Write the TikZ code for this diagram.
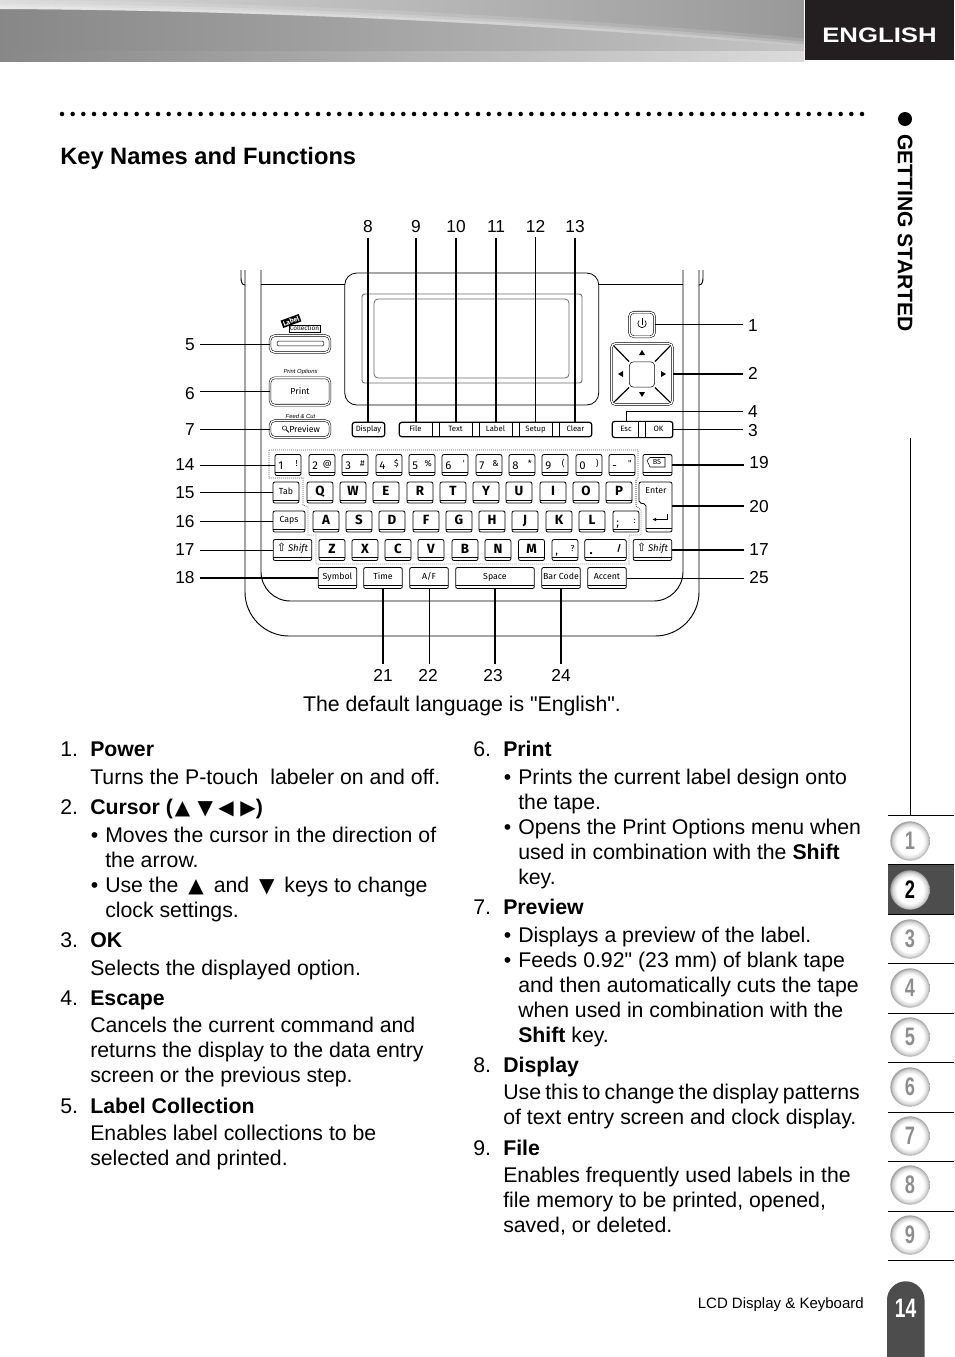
\documentclass[tikz,border=0pt]{standalone}
\usepackage{fontspec}
\usepackage{xcolor}
\setmainfont[Ligatures=TeXOff]{Liberation Sans}
\newfontfamily\keyfont[Ligatures=TeXOff]{Fira Sans}
\newfontfamily\symfont{DejaVu Sans}
\newfontfamily\navfont[FakeStretch=0.72]{Liberation Sans}
\newfontfamily\engfont[FakeStretch=1.23]{Liberation Sans}
\usetikzlibrary{arrows.meta,shapes.geometric}
\definecolor{tabdark}{HTML}{4D4D4D}
\definecolor{engdark}{HTML}{231F20}
\definecolor{navgrey}{HTML}{8E8E8E}
\definecolor{framegrey}{HTML}{6A6A6A}
\newcommand{\bodysize}{\fontsize{15.95}{18.75}\selectfont}
\newcommand{\itm}{\makebox[11.25pt][l]{\hspace{0.4pt}•}}
\newcommand{\cont}{\hspace*{11.25pt}}
\newcommand{\tup}{{\symfont\fontsize{15}{15}\selectfont▲}}
\newcommand{\tdn}{{\symfont\fontsize{15}{15}\selectfont▼}}
\newcommand{\tlf}{{\symfont\fontsize{15}{15}\selectfont◀}}
\newcommand{\trt}{{\symfont\fontsize{15}{15}\selectfont▶}}
\newcommand{\twin}[2]{\makebox[14.5pt]{\raisebox{-0.4pt}{#1}\hfill\raisebox{1.8pt}{\fontsize{6.5}{6.5}\selectfont #2}}}
\pgfdeclareradialshading{navball}{\pgfpoint{0bp}{0bp}}{%
  rgb(0bp)=(1,1,1);rgb(17bp)=(1,1,1);rgb(22bp)=(0.84,0.84,0.84);rgb(25bp)=(0.62,0.62,0.62);rgb(50bp)=(0.62,0.62,0.62)}
\tikzset{
  body/.style={anchor=north west, inner sep=0pt, align=left, font=\bodysize,
    execute at begin node=\strut},
  head/.style={body, font=\bodysize\bfseries},
  leadnum/.style={font=\fontsize{13}{13}\selectfont, inner sep=3.75pt},
  lead/.style={draw=black, line width=0.75pt},
  leadbold/.style={draw=black, line width=1.3pt},
  leadthin/.style={draw=black, line width=0.45pt},
  keybox/.style={draw=black, line width=0.6pt, rounded corners=1.5pt, inner sep=0pt,
    minimum width=19.5pt, minimum height=15.8pt, text height=5pt, text depth=1pt,
    font=\keyfont\fontsize{6.6}{7}\selectfont,
    path picture={\draw[line width=0.5pt]
      ([yshift=2.4pt]path picture bounding box.south west) --
      ([yshift=2.4pt]path picture bounding box.south east);}},
  letterkey/.style={keybox, text height=6.8pt, text depth=0pt, font=\keyfont\bfseries\fontsize{10}{10}\selectfont},
  twinkey/.style={keybox, text height=6pt, text depth=0pt, font=\keyfont\fontsize{8.5}{9}\selectfont},
  btnbox/.style={draw=black, double=white, double distance=1pt, line width=0.4pt,
    rounded corners=3.5pt, inner sep=0pt, font=\keyfont\fontsize{6.6}{7}\selectfont},
  barbox/.style={draw=black, line width=0.9pt, rounded corners=2pt, inner sep=0pt,
    text height=4.5pt, text depth=1pt, font=\keyfont\fontsize{5.8}{6}\selectfont},
  barlabel/.style={inner sep=0pt, text height=4.5pt, text depth=1pt, font=\keyfont\fontsize{5.8}{6}\selectfont},
  tinynote/.style={inner sep=0pt, font=\itshape\fontsize{4.4}{5}\selectfont},
  bodyline/.style={draw=black, line width=0.7pt},
  navline/.style={draw=black, line width=0.75pt},
  navball/.style={circle, shading=navball, minimum size=29.5pt, inner sep=0pt,
    font=\navfont\bfseries\fontsize{19}{19}\selectfont},
}

\begin{document}
\begin{tikzpicture}[x=0.75pt, y=-0.75pt]
  \useasboundingbox (0,0) rectangle (954,1357);

  % header band
  \shade[left color=black!47, right color=black!23] (0,0) rectangle (804,61.5);
  \begin{scope}
    \clip (0,0) -- (0,9) .. controls (250,10) and (550,24) .. (804,47) -- (804,0) -- cycle;
    \shade[left color=black!15, right color=black!40] (0,0) rectangle (804,50);
    \draw[white, opacity=0.12, line width=13pt] (0,9) .. controls (250,10) and (550,24) .. (804,47);
    \draw[white, opacity=0.18, line width=8pt] (0,9) .. controls (250,10) and (550,24) .. (804,47);
    \draw[white, opacity=0.22, line width=4pt] (0,9) .. controls (250,10) and (550,24) .. (804,47);
  \end{scope}
  \shade[left color=black!47, right color=black!14] (0,51) rectangle (804,61.5);
  \fill[engdark] (805,0) rectangle (954,60);
  \node[inner sep=0pt, text=white, font=\engfont\bfseries\fontsize{15.7}{16}\selectfont] (lang) at (879.5,35) {ENGLISH};

  % title row
  \draw[line width=3.4pt, line cap=round, dash pattern=on 0pt off 8pt] (62,114) -- (864,114);
  \node[anchor=base west, inner sep=0pt, font=\fontsize{17.75}{20}\selectfont\bfseries] (pagetitle) at (60,164.5) {Key Names and Functions};

  % side column
  \fill (905,119) circle (7);
  \node[rotate=-90, inner sep=0pt, font=\bfseries\fontsize{15.8}{16}\selectfont] (chapter) at (905,233) {GETTING STARTED};
  \draw[navline] (910,438) -- (910,815);
  \fill[tabdark] (888,865) rectangle (954,914);
  \foreach \k in {0,...,9} {
    \draw[navline] (888,815.5+49.45*\k) -- (954,815.5+49.45*\k);
  }
  \foreach \i/\ny in {1/841,3/939,4/988,5/1037,6/1087,7/1136,8/1185,9/1235} {
    \node[navball, text=navgrey] (nav\i) at (910,\ny) {\i};
  }
  \node[navball, text=black] (nav2) at (910,890) {2};
  \fill[tabdark] (887,1357) -- (887,1300) arc[start angle=180, end angle=360, radius=18.75] -- (924.5,1357) -- cycle;
  \node[inner sep=0pt, text=white, font=\navfont\bfseries\fontsize{20}{20}\selectfont] (pagenum) at (905.5,1308) {14};
  \node[anchor=base east, inner sep=0pt, font=\fontsize{11.25}{13}\selectfont] (footer) at (864,1308) {LCD Display \& Keyboard};

  % machine outline
  \draw[bodyline, rounded corners=33pt] (245,270) -- (245,636) -- (699,636) -- (699,270);
  \draw[bodyline, rounded corners=22pt] (261,270) -- (261,601) -- (683,601) -- (683,270);
  \draw[bodyline] (245,285) to[out=180, in=270] (241,278) -- (241,270);
  \draw[bodyline] (699,285) to[out=0, in=270] (703,278) -- (703,270);
  \draw[bodyline] (261,284) -- (345,284);
  \draw[bodyline] (599,284) -- (683,284);

  % display panel
  \node[draw=black, line width=0.6pt, rounded corners=9pt, minimum width=190.5pt, minimum height=99pt, inner sep=0pt] (lcdframe) at (471.75,339) {};
  \node[draw=framegrey, line width=0.7pt, rounded corners=2pt, minimum width=165pt, minimum height=66.75pt, inner sep=0pt] (lcdmid) at (472,338.5) {};
  \node[draw=framegrey, fill=white, line width=0.6pt, rounded corners=3pt, minimum width=146.25pt, minimum height=59.25pt, inner sep=0pt] (lcd) at (471.5,338.5) {};

  % left buttons
  \node[btnbox, minimum width=45pt, minimum height=12.5pt] (labelbtn) at (300,344) {};
  \node[draw=black, line width=0.4pt, rounded corners=1pt, minimum width=35pt, minimum height=3.6pt, inner sep=0pt] (labelslot) at (300.5,343.5) {};
  \node[btnbox, minimum width=45pt, minimum height=20.5pt] (printbtn) at (300,391.5) {Print};
  \node[btnbox, minimum width=45pt, minimum height=12.5pt] (previewbtn) at (300,429) {\hspace{7pt}Preview};
  \node[fill=black, text=white, rotate=20, inner sep=1pt, font=\keyfont\bfseries\fontsize{5}{5}\selectfont] (labeltag) at (291,321) {Label};
  \node[draw=black, fill=white, line width=0.3pt, inner sep=0.6pt, font=\keyfont\fontsize{4.8}{5}\selectfont] (colltag) at (304.5,328.5) {Collection};
  \node[tinynote] (optnote) at (300.5,372) {Print Options};
  \node[tinynote] (feednote) at (300.5,416) {Feed \& Cut};
  \draw[line width=0.35pt] (284.5,428) circle (2.2);
  \draw[line width=0.6pt] (286.2,429.7) -- (288.8,432.3);

  % function row
  \node[barbox, minimum width=24.5pt, minimum height=10.8pt] (display) at (368.5,429.5) {Display};
  \node[barbox, minimum width=144.5pt, minimum height=10.8pt] (fnbar) at (495.5,429.5) {};
  \foreach \fx/\fname/\ftxt in {415.5/file/File,455.5/text/Text,495.5/lab/Label,535.5/setup/Setup,575.5/clear/Clear} {
    \node[barlabel, minimum width=24pt, minimum height=10.8pt] (\fname) at (\fx,429.5) {\ftxt};
  }
  \foreach \dx in {432,439,472,479,512,519,552,559} {
    \draw[line width=0.4pt] (\dx,422) -- (\dx,437);
  }

  % right controls
  \node[btnbox, minimum width=19pt, minimum height=18.5pt] (power) at (642,324.5) {};
  \draw[line width=0.5pt] (645,320.5) arc[start angle=-45, end angle=225, radius=4.2];
  \draw[line width=0.5pt] (642,318) -- (642,324.5);
  \node[btnbox, minimum width=46pt, minimum height=46pt] (cursor) at (642,374) {};
  \node[draw=black, fill=white, line width=0.4pt, rounded corners=3pt, minimum size=19pt, inner sep=0pt] (cursorkey) at (642,374.5) {};
  \draw[line width=0.9pt, shorten <=3pt] (cursor.north west) -- (cursorkey.north west);
  \draw[line width=0.9pt, shorten <=3pt] (cursor.north east) -- (cursorkey.north east);
  \draw[line width=0.9pt, shorten <=3pt] (cursor.south west) -- (cursorkey.south west);
  \draw[line width=0.9pt, shorten <=3pt] (cursor.south east) -- (cursorkey.south east);
  \fill (642,350) -- (645,355) -- (639,355) -- cycle;
  \fill (642,397) -- (645,392) -- (639,392) -- cycle;
  \fill (618,374) -- (623,371) -- (623,377) -- cycle;
  \fill (666,374) -- (661,371) -- (661,377) -- cycle;
  \node[barbox, minimum width=45.5pt, minimum height=12.2pt] (escbar) at (642.5,429.5) {};
  \node[barlabel] (esc) at (626,429.5) {Esc};
  \node[barlabel] (ok) at (658.5,429.5) {OK};
  \draw[line width=0.4pt] (638,421) -- (638,438);
  \draw[line width=0.4pt] (645,421) -- (645,438);

  % key block
  \draw[line width=0.5pt, densely dotted] (269,450) -- (638,450) -- (638,478) -- (636,480) -- (636,506)
    -- (641,510) -- (641,535) -- (629,535) -- (629,564) -- (316,564) -- (316,535) -- (308,535)
    -- (308,507) -- (303,505) -- (303,478) -- (269,478) -- cycle;

  \foreach \kid/\kx/\ktxt in {1/288/{\twin{1}{!}},2/322/{\twin{2}{@}},3/355/{\twin{3}{\#}},4/389/{\twin{4}{\$}},
      5/422/{\twin{5}{\%}},6/455/{\twin{6}{'}},7/489/{\twin{7}{\&}},8/522/{\twin{8}{*}},
      9/555/{\twin{9}{(}},0/589/{\twin{0}{)}},minus/622/{\twin{-}{"}}} {
    \node[twinkey] (k\kid) at (\kx,465) {\ktxt};
  }
  \node[keybox, minimum width=21.8pt] (kbs) at (657.5,465) {};
  \draw[line width=0.4pt] (647,460.5) -- (650,457.5) -- (665,457.5) -- (665,467) -- (650,467) -- cycle;
  \node[inner sep=0pt, font=\keyfont\fontsize{5.5}{6}\selectfont] (bstxt) at (657,462.3) {BS};

  \node[keybox, minimum width=19.5pt] (ktab) at (286,492.5) {\raisebox{0.8pt}{Tab}};
  \foreach \kid/\kx in {Q/320,W/353,E/386,R/420,T/453,Y/486,U/519,I/553,O/586,P/619} {
    \node[letterkey] (k\kid) at (\kx,492.5) {\raisebox{0.8pt}{\kid}};
  }
  \node[keybox, minimum width=24pt] (kcaps) at (289,521.5) {\raisebox{1.2pt}{Caps}};
  \foreach \kid/\kx in {A/326,S/359,D/392,F/426,G/459,H/492,J/525,K/559,L/592} {
    \node[letterkey] (k\kid) at (\kx,521.5) {\raisebox{0.8pt}{\kid}};
  }
  \node[twinkey] (ksemi) at (626,521.5) {\twin{;}{:}};
  \node[keybox, minimum width=29pt, font=\keyfont\fontsize{7.2}{7.5}\selectfont] (lshift) at (292.5,550) {\raisebox{0.8pt}{{\symfont\fontsize{8.5}{8.5}\selectfont⇧}\,\itshape Shift}};
  \foreach \kid/\kx in {Z/332,X/365,C/398,V/431,B/465,N/498,M/531.5} {
    \node[letterkey] (k\kid) at (\kx,550) {\raisebox{0.8pt}{\kid}};
  }
  \node[twinkey] (kcomma) at (565,550) {\twin{,}{?}};
  \node[twinkey, minimum width=31pt, font=\keyfont\bfseries\fontsize{9.5}{10}\selectfont] (kdot) at (605.5,550) {\makebox[24pt]{\raisebox{-0.4pt}{.}\hfill\raisebox{1.8pt}{\fontsize{6.5}{6.5}\selectfont /}}};
  \node[keybox, minimum width=29pt, font=\keyfont\fontsize{7.2}{7.5}\selectfont] (rshift) at (652.5,550) {\raisebox{0.8pt}{{\symfont\fontsize{8.5}{8.5}\selectfont⇧}\,\itshape Shift}};
  \foreach \kid/\kx/\kw/\ktxt in {symbol/337.5/29/Symbol,time/383/29/Time,af/429/29/{A/F},space/495/59/Space,
      barcode/561/29/Bar Code,accent/607/29/Accent} {
    \node[keybox, minimum width=\kw pt] (\kid) at (\kx,578) {\raisebox{0.8pt}{\ktxt}};
  }

  % enter key
  \draw[line width=0.6pt, rounded corners=1.5pt] (639,503) -- (639,482) -- (672,482) -- (672,532) -- (646,532) -- (646,504) -- cycle;
  \draw[line width=0.5pt] (646,528.5) -- (672,528.5);
  \node[inner sep=0pt, font=\keyfont\fontsize{6.6}{7}\selectfont] (enter) at (656,490.5) {Enter};
  \draw[line width=0.6pt, -{Latex[length=3pt,width=2.5pt]}] (667,514) -- (667,519.5) -- (652,519.5);
  \coordinate (enterport) at (672,506);

  % numbers
  \foreach \lid/\lx/\ly in {8/368/226.5,9/416/226.5,10/456/226.5,11/496/226.5,12/535.5/226,13/575/226.5,
      5/190/345,6/190/394,7/190/430,14/185/465,15/185/493,16/185/522,17/185/550,18/185/578,
      1/753/325.5,2/753/373.5,4/753/411.5,3/753/431,19/759/462.5,20/759/507,25/759/578,
      21/383/675,22/428/675,23/493/675.5,24/561/675} {
    \node[leadnum] (l\lid) at (\lx,\ly) {\lid};
  }
  \node[leadnum] (l17r) at (759,549.5) {17};

  % leaders
  \draw[leadbold] (l8.south) -- (l8.south |- display.north);
  \draw[leadbold] (l9.south) -- (l9.south |- file.north);
  \draw[leadbold] (l10.south) -- (l10.south |- text.north);
  \draw[leadbold] (l11.south) -- (l11.south |- lab.north);
  \draw[leadthin] (l12.south) -- (l12.south |- setup.north);
  \draw[leadbold] (l13.south) -- (l13.south |- clear.north);
  \draw[lead] (l5.east |- labelbtn.west) -- (labelbtn.west);
  \draw[lead] (l6.east |- printbtn.west) -- (printbtn.west);
  \draw[lead] (l7.east |- previewbtn.west) -- (previewbtn.west);
  \draw[lead] (l14.east |- k1.west) -- (k1.west);
  \draw[lead] (l15.east |- ktab.west) -- (ktab.west);
  \draw[lead] (l16.east |- kcaps.west) -- (kcaps.west);
  \draw[lead] (l17.east |- lshift.west) -- (lshift.west);
  \draw[leadbold] (l18.east |- symbol.west) -- (symbol.west);
  \draw[lead] (power.east) -- (l1.west |- power.east);
  \draw[leadbold] (cursor.east) -- (l2.west |- cursor.east);
  \draw[lead] (esc.north |- escbar.north) |- (l4.west);
  \draw[lead] (escbar.east) -- (l3.west |- escbar.east);
  \draw[leadbold] (kbs.east) -- (l19.west |- kbs.east);
  \draw[leadbold] (enterport) -- (l20.west |- enterport);
  \draw[leadbold] (rshift.east) -- (l17r.west |- rshift.east);
  \draw[lead] (accent.east) -- (l25.west |- accent.east);
  \draw[leadbold] (time.south) -- (time.south |- l21.north);
  \draw[leadthin] (af.south) -- (af.south |- l22.north);
  \draw[leadbold] (space.south) -- (space.south |- l23.north);
  \draw[leadbold] (barcode.south) -- (barcode.south |- l24.north);

  \node[inner sep=0pt, font=\bodysize] (langnote) at (462,705.5) {The default language is "English".};

  % left column
  \node[body] (n1) at (60,739) {1.};
  \node[head] (h1) at (90,739) {Power};
  \node[body] (d1) at (90,766.5) {Turns the P-touch\ \ labeler on and off.};
  \node[body] (n2) at (60,796.5) {2.};
  \node[head] (h2) at (90,796.5) {Cursor (\hspace{1.5pt}\tup\hspace{5.5pt}\tdn\hspace{4pt}\tlf\hspace{5pt}\trt)};
  \node[body] (d2) at (90,826.5) {\itm Moves the cursor in the direction of\\
    \cont the arrow.\\
    \itm Use the\hspace{3pt} \tup\hspace{3pt} and\hspace{3pt} \tdn\hspace{3pt} keys to change\\
    \cont clock settings.};
  \node[body] (n3) at (60,929.5) {3.};
  \node[head] (h3) at (90,929.5) {OK};
  \node[body] (d3) at (90,957.5) {Selects the displayed option.};
  \node[body] (n4) at (60,987.5) {4.};
  \node[head] (h4) at (90,987.5) {Escape};
  \node[body] (d4) at (90,1016.5) {Cancels the current command and\\
    returns the display to the data entry\\
    screen or the previous step.};
  \node[body] (n5) at (60,1095.5) {5.};
  \node[head] (h5) at (90,1095.5) {Label Collection};
  \node[body] (d5) at (90,1124.5) {Enables label collections to be\\
    selected and printed.};

  % right column
  \node[body] (n6) at (473,738.5) {6.};
  \node[head] (h6) at (503,738.5) {Print};
  \node[body] (d6) at (503,768.5) {\itm Prints the current label design onto\\
    \cont the tape.\\
    \itm Opens the Print Options menu when\\
    \cont used in combination with the \textbf{Shift}\\
    \cont key.};
  \node[body] (n7) at (473,896.5) {7.};
  \node[head] (h7) at (503,896.5) {Preview};
  \node[body] (d7) at (503,926.5) {\itm Displays a preview of the label.\\
    \itm Feeds 0.92" (23 mm) of blank tape\\
    \cont and then automatically cuts the tape\\
    \cont when used in combination with the\\
    \cont \textbf{Shift} key.};
  \node[body] (n8) at (473,1054.5) {8.};
  \node[head] (h8) at (503,1054.5) {Display};
  \node[body] (d8) at (503,1083.5) {{\spaceskip=3.2pt Use this to change the display patterns}\\
    of text entry screen and clock display.};
  \node[body] (n9) at (473,1137.5) {9.};
  \node[head] (h9) at (503,1137.5) {File};
  \node[body] (d9) at (503,1166.5) {Enables frequently used labels in the\\
    file memory to be printed, opened,\\
    saved, or deleted.};
\end{tikzpicture}
\end{document}
